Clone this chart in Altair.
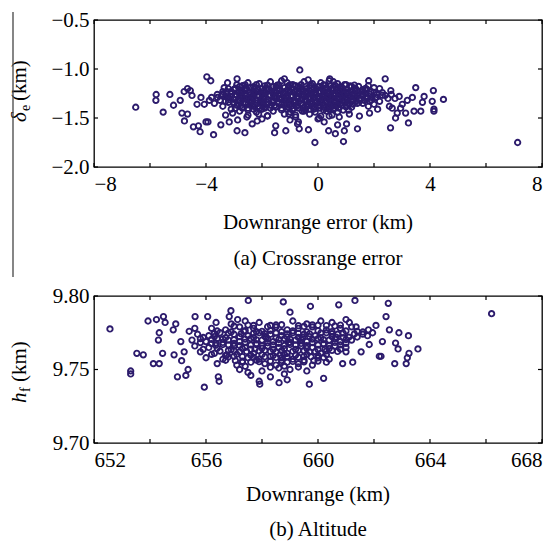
import altair as alt
import pandas as pd

# ---------------- data ----------------
crossrange_points = [
    # outliers / sparse points
    (-6.51, -1.39), (-5.78, -1.26), (-5.79, -1.32), (-5.53, -1.44), (-5.29, -1.26), (-5.16, -1.37),
    (-4.92, -1.32), (-4.86, -1.45), (-4.66, -1.46), (-4.77, -1.53), (-4.78, -1.23), (-4.66, -1.20),
    (-4.56, -1.22), (-4.50, -1.27), (-4.45, -1.59), (-4.27, -1.58), (-4.21, -1.64), (-4.00, -1.54),
    (-3.93, -1.54), (-3.97, -1.08), (-3.83, -1.12), (-3.73, -1.67), (-3.47, -1.57), (-4.18, -1.29),
    (-4.32, -1.36), (-4.06, -1.36), (-3.88, -1.32), (-3.17, -1.54), (-2.89, -1.63), (-2.87, -1.52),
    (-2.89, -1.10), (-3.35, -1.19), (-3.23, -1.14), (-0.65, -1.01), (-2.61, -1.65), (-2.35, -1.56),
    (-2.17, -1.53), (-1.55, -1.65), (-1.51, -1.58), (-1.15, -1.63), (-0.73, -1.56), (-0.67, -1.61),
    (-0.34, -1.62), (-0.11, -1.75), (0.22, -1.54), (0.38, -1.63), (0.62, -1.66), (0.70, -1.57),
    (0.94, -1.63), (1.02, -1.56), (0.91, -1.74), (1.41, -1.61), (0.42, -1.10), (1.81, -1.12),
    (2.40, -1.10), (2.20, -1.20), (2.50, -1.30), (2.55, -1.38), (7.13, -1.75), (3.49, -1.19),
    (4.12, -1.22), (4.48, -1.31), (4.08, -1.33), (4.14, -1.41), (4.14, -1.43), (3.79, -1.28),
    (3.73, -1.34), (3.67, -1.43), (3.43, -1.43), (3.23, -1.55), (3.37, -1.29), (3.19, -1.32),
    (3.01, -1.36), (3.13, -1.45), (2.83, -1.45), (2.77, -1.50), (2.62, -1.26), (2.75, -1.30),
    (2.90, -1.28), (2.95, -1.40), (2.65, -1.40), (2.59, -1.60),
    (-1.81, -1.477), (-1.04, -1.46), (-0.80, -1.49), (-0.56, -1.43), (0.04, -1.50), (0.40, -1.48),
    (0.76, -1.49), (1.12, -1.46), (1.48, -1.48), (1.84, -1.45), (2.13, -1.41), (-2.54, -1.49),
    (-2.12, -1.46), (-3.59, -1.29), (-3.41, -1.255), (-3.30, -1.47), (-3.05, -1.45), (-2.95, -1.40),
    # dense band
    (-2.9, -1.16), (-2.5, -1.14), (-2.1, -1.15), (-1.7, -1.13), (-1.3, -1.12), (-1.1, -1.14),
    (-0.9, -1.16), (-0.5, -1.13), (-0.2, -1.15), (0.1, -1.14), (0.4, -1.12), (0.7, -1.15),
    (1.0, -1.16), (1.8, -1.17), (-1.2, -1.10), (-0.35, -1.11), (0.55, -1.13),
    (-3.2, -1.20), (-2.8, -1.18), (-2.4, -1.19), (-2.0, -1.20), (-1.6, -1.18), (-1.2, -1.19),
    (-0.8, -1.17), (-0.4, -1.20), (0.0, -1.18), (0.3, -1.19), (0.6, -1.17), (0.9, -1.20),
    (1.2, -1.18), (1.6, -1.21), (2.0, -1.19),
    (-3.4, -1.23), (-3.0, -1.21), (-2.6, -1.22), (-2.2, -1.23), (-1.8, -1.21), (-1.4, -1.22),
    (-1.0, -1.23), (-0.6, -1.21), (-0.3, -1.22), (0.2, -1.23), (0.5, -1.21), (0.8, -1.22),
    (1.1, -1.24), (1.4, -1.22), (1.9, -1.23), (2.3, -1.24),
    (-3.6, -1.26), (-3.1, -1.25), (-2.7, -1.24), (-2.3, -1.26), (-1.9, -1.25), (-1.5, -1.24),
    (-1.1, -1.26), (-0.7, -1.25), (-0.35, -1.24), (-0.05, -1.26), (0.35, -1.25), (0.65, -1.26),
    (1.0, -1.25), (1.3, -1.27), (1.7, -1.25), (2.1, -1.26), (2.6, -1.22),
    (-3.8, -1.29), (-3.3, -1.28), (-2.9, -1.27), (-2.5, -1.29), (-2.1, -1.28), (-1.7, -1.27),
    (-1.3, -1.29), (-0.9, -1.28), (-0.5, -1.27), (-0.15, -1.29), (0.15, -1.28), (0.5, -1.29),
    (0.85, -1.28), (1.15, -1.29), (1.5, -1.30), (1.9, -1.29), (2.4, -1.27),
    (-3.5, -1.32), (-3.0, -1.31), (-2.6, -1.30), (-2.2, -1.32), (-1.8, -1.31), (-1.4, -1.30),
    (-1.0, -1.32), (-0.6, -1.31), (-0.25, -1.30), (0.1, -1.32), (0.45, -1.31), (0.75, -1.32),
    (1.05, -1.31), (1.35, -1.33), (1.65, -1.32), (2.2, -1.33),
    (-3.7, -1.35), (-3.2, -1.34), (-2.8, -1.33), (-2.4, -1.35), (-2.0, -1.34), (-1.6, -1.33),
    (-1.2, -1.35), (-0.8, -1.34), (-0.4, -1.33), (-0.1, -1.35), (0.3, -1.34), (0.6, -1.35),
    (0.95, -1.34), (1.25, -1.36), (1.6, -1.35), (2.0, -1.36),
    (-3.4, -1.38), (-2.9, -1.37), (-2.5, -1.36), (-2.1, -1.38), (-1.7, -1.37), (-1.3, -1.36),
    (-0.95, -1.38), (-0.55, -1.37), (-0.2, -1.38), (0.2, -1.37), (0.5, -1.38), (0.85, -1.37),
    (1.2, -1.39), (1.8, -1.38),
    (-3.1, -1.41), (-2.7, -1.40), (-2.3, -1.41), (-1.9, -1.40), (-1.5, -1.39), (-1.1, -1.41),
    (-0.7, -1.40), (-0.3, -1.41), (0.05, -1.40), (0.4, -1.41), (0.75, -1.40), (1.1, -1.42),
    (-2.8, -1.43), (-2.2, -1.44), (-1.6, -1.43), (-1.0, -1.44), (-0.5, -1.43), (-0.1, -1.44),
    (0.3, -1.43), (0.7, -1.44),
    (-2.5, -1.47), (-1.8, -1.48), (-1.2, -1.46), (-0.8, -1.47), (-0.3, -1.46), (0.1, -1.48),
    (0.5, -1.47), (-2.0, -1.51), (-1.0, -1.52), (-0.7, -1.54), (0.0, -1.51),
    (-1.45, -1.165), (-0.65, -1.185), (0.25, -1.165), (-2.35, -1.30), (-1.55, -1.295),
    (-0.75, -1.295), (0.05, -1.245), (0.85, -1.245), (-1.95, -1.355), (-1.15, -1.315),
    (-0.35, -1.355), (0.45, -1.275), (1.25, -1.255), (-2.75, -1.215), (-0.05, -1.205), (0.65, -1.335),
    # dense band, in-between rows
    (-2.7, -1.171), (-2.3, -1.179), (-1.9, -1.172), (-1.5, -1.178), (-1.05, -1.171), (-0.7, -1.179),
    (-0.3, -1.172), (0.05, -1.178), (0.45, -1.171), (0.8, -1.179), (1.15, -1.172), (1.45, -1.178),
    (-3.0, -1.209), (-2.55, -1.201), (-2.15, -1.208), (-1.75, -1.202), (-1.35, -1.209), (-0.95, -1.201),
    (-0.55, -1.208), (-0.15, -1.202), (0.25, -1.209), (0.65, -1.201), (1.0, -1.208), (1.35, -1.202),
    (1.75, -1.209),
    (-3.25, -1.231), (-2.85, -1.239), (-2.45, -1.232), (-2.05, -1.238), (-1.65, -1.231), (-1.25, -1.239),
    (-0.85, -1.232), (-0.45, -1.238), (-0.1, -1.231), (0.3, -1.239), (0.7, -1.232), (1.05, -1.238),
    (1.5, -1.231), (2.0, -1.239),
    (-3.4, -1.269), (-2.95, -1.261), (-2.55, -1.268), (-2.15, -1.262), (-1.75, -1.269), (-1.35, -1.261),
    (-0.95, -1.268), (-0.55, -1.262), (-0.2, -1.269), (0.2, -1.261), (0.55, -1.268), (0.9, -1.262),
    (1.25, -1.269), (1.6, -1.261), (2.3, -1.268),
    (-3.2, -1.291), (-2.75, -1.299), (-2.35, -1.292), (-1.95, -1.298), (-1.5, -1.291), (-1.1, -1.299),
    (-0.7, -1.292), (-0.35, -1.298), (0.0, -1.291), (0.35, -1.299), (0.7, -1.292), (1.0, -1.298),
    (1.35, -1.291), (1.75, -1.299), (2.05, -1.292),
    (-3.3, -1.329), (-2.85, -1.321), (-2.45, -1.328), (-2.05, -1.322), (-1.6, -1.329), (-1.2, -1.321),
    (-0.8, -1.328), (-0.45, -1.322), (-0.05, -1.329), (0.3, -1.321), (0.6, -1.328), (0.9, -1.322),
    (1.2, -1.329), (1.5, -1.321), (1.85, -1.328),
    (-3.0, -1.351), (-2.6, -1.359), (-2.2, -1.352), (-1.8, -1.358), (-1.4, -1.351), (-1.0, -1.359),
    (-0.6, -1.352), (-0.25, -1.358), (0.15, -1.351), (0.45, -1.359), (0.8, -1.352), (1.1, -1.358),
    (1.4, -1.351),
    (-2.7, -1.389), (-2.3, -1.381), (-1.9, -1.388), (-1.5, -1.382), (-1.1, -1.389), (-0.75, -1.381),
    (-0.4, -1.388), (0.0, -1.382), (0.35, -1.389), (0.65, -1.381), (1.0, -1.388),
    (-2.5, -1.419), (-2.0, -1.411), (-1.3, -1.418), (-0.9, -1.412), (-0.45, -1.419), (-0.15, -1.411),
    (0.2, -1.418), (0.55, -1.412), (0.9, -1.419),
    # dense band, third set
    (-2.6, -1.162), (-2.2, -1.160), (-1.8, -1.164), (-1.4, -1.161), (-1.0, -1.163), (-0.6, -1.160),
    (-0.25, -1.164), (0.2, -1.161), (0.6, -1.163), (0.95, -1.160), (1.3, -1.164),
    (-2.95, -1.196), (-2.6, -1.194), (-2.25, -1.198), (-1.85, -1.195), (-1.45, -1.197), (-1.05, -1.194),
    (-0.65, -1.198), (-0.25, -1.195), (0.15, -1.197), (0.5, -1.194), (0.85, -1.198), (1.3, -1.195),
    (1.7, -1.197),
    (-3.1, -1.228), (-2.7, -1.226), (-2.3, -1.230), (-1.95, -1.227), (-1.55, -1.229), (-1.15, -1.226),
    (-0.75, -1.230), (-0.4, -1.227), (0.05, -1.229), (0.4, -1.226), (0.75, -1.230), (1.2, -1.227),
    (1.6, -1.229),
    (-3.25, -1.257), (-2.8, -1.255), (-2.4, -1.259), (-2.0, -1.256), (-1.6, -1.258), (-1.2, -1.255),
    (-0.8, -1.259), (-0.45, -1.256), (-0.1, -1.258), (0.25, -1.255), (0.6, -1.259), (0.95, -1.256),
    (1.4, -1.258), (1.85, -1.255),
    (-3.1, -1.284), (-2.7, -1.282), (-2.3, -1.286), (-1.9, -1.283), (-1.5, -1.285), (-1.1, -1.282),
    (-0.7, -1.286), (-0.3, -1.283), (0.05, -1.285), (0.35, -1.282), (0.7, -1.286), (1.05, -1.283),
    (1.35, -1.285), (1.7, -1.282), (2.1, -1.286),
    (-3.2, -1.313), (-2.8, -1.311), (-2.4, -1.315), (-2.0, -1.312), (-1.6, -1.314), (-1.2, -1.311),
    (-0.85, -1.315), (-0.45, -1.312), (-0.1, -1.314), (0.25, -1.311), (0.6, -1.315), (0.9, -1.312),
    (1.2, -1.314), (1.5, -1.311), (1.9, -1.315),
    (-3.0, -1.343), (-2.6, -1.341), (-2.2, -1.345), (-1.8, -1.342), (-1.4, -1.344), (-1.0, -1.341),
    (-0.6, -1.345), (-0.25, -1.342), (0.1, -1.344), (0.45, -1.341), (0.8, -1.345), (1.1, -1.342),
    (1.45, -1.344),
    (-2.75, -1.372), (-2.35, -1.370), (-1.95, -1.374), (-1.55, -1.371), (-1.15, -1.373), (-0.75, -1.370),
    (-0.35, -1.374), (0.05, -1.371), (0.4, -1.373), (0.7, -1.370), (1.05, -1.374),
    (-2.5, -1.400), (-2.1, -1.402), (-1.7, -1.399), (-1.3, -1.401), (-0.9, -1.403), (-0.5, -1.400),
    (-0.1, -1.402), (0.25, -1.399), (0.6, -1.401),
]

altitude_points = [
    # outliers / sparse points
    (652.57, 9.7776), (653.93, 9.783), (654.23, 9.784), (654.48, 9.786), (654.54, 9.782),
    (654.92, 9.781), (654.33, 9.775), (654.30, 9.770), (654.83, 9.777), (653.53, 9.761),
    (653.76, 9.760), (653.31, 9.749), (653.31, 9.747), (654.12, 9.754), (654.33, 9.754),
    (654.45, 9.761), (654.86, 9.760), (655.10, 9.769), (655.22, 9.762), (655.13, 9.756),
    (654.98, 9.745), (655.28, 9.746), (655.36, 9.750), (655.61, 9.786), (656.06, 9.786),
    (656.36, 9.782), (655.94, 9.738), (655.40, 9.776), (655.60, 9.778), (655.80, 9.771),
    (656.44, 9.745), (656.47, 9.742), (656.89, 9.790), (656.83, 9.786), (657.13, 9.784),
    (657.51, 9.797), (658.76, 9.796), (659.00, 9.789), (659.73, 9.793), (660.74, 9.794),
    (661.32, 9.797), (662.51, 9.795), (662.43, 9.786), (662.55, 9.777), (662.19, 9.759),
    (662.25, 9.759), (659.69, 9.740), (660.20, 9.744), (657.90, 9.742), (657.92, 9.740),
    (658.61, 9.741), (658.90, 9.743), (657.50, 9.748), (661.24, 9.755), (660.88, 9.754),
    (661.54, 9.762), (662.30, 9.769), (662.07, 9.780), (661.95, 9.775), (661.77, 9.773),
    (661.83, 9.767), (661.12, 9.782), (661.36, 9.779), (666.20, 9.788), (662.89, 9.775),
    (663.23, 9.773), (662.77, 9.768), (662.86, 9.764), (663.57, 9.764), (663.25, 9.761),
    (663.19, 9.758), (663.15, 9.754), (662.74, 9.754),
    # dense cluster
    (656.9, 9.781), (657.4, 9.783), (657.9, 9.782), (658.3, 9.780), (659.1, 9.783), (659.6, 9.781),
    (660.1, 9.783), (660.5, 9.782), (661.0, 9.784),
    (656.2, 9.778), (656.7, 9.777), (657.2, 9.779), (657.7, 9.778), (658.0, 9.776), (658.5, 9.779),
    (658.9, 9.777), (659.3, 9.778), (659.8, 9.779), (660.3, 9.777), (660.8, 9.778), (661.4, 9.776),
    (661.8, 9.777),
    (655.7, 9.774), (656.1, 9.773), (656.5, 9.775), (657.0, 9.774), (657.5, 9.773), (657.9, 9.775),
    (658.3, 9.774), (658.7, 9.773), (659.1, 9.775), (659.5, 9.774), (659.9, 9.773), (660.3, 9.775),
    (660.7, 9.774), (661.1, 9.772), (661.6, 9.774),
    (655.5, 9.770), (656.0, 9.769), (656.4, 9.771), (656.8, 9.770), (657.2, 9.769), (657.6, 9.771),
    (658.0, 9.770), (658.4, 9.769), (658.8, 9.771), (659.2, 9.770), (659.6, 9.769), (660.0, 9.771),
    (660.4, 9.770), (660.8, 9.769), (661.2, 9.770),
    (655.6, 9.766), (656.1, 9.765), (656.6, 9.767), (657.0, 9.766), (657.4, 9.765), (657.8, 9.767),
    (658.2, 9.766), (658.6, 9.765), (659.0, 9.767), (659.4, 9.766), (659.8, 9.765), (660.2, 9.767),
    (660.6, 9.766), (661.0, 9.765),
    (655.8, 9.762), (656.3, 9.761), (656.8, 9.763), (657.2, 9.762), (657.7, 9.761), (658.1, 9.763),
    (658.5, 9.762), (658.9, 9.761), (659.3, 9.763), (659.7, 9.762), (660.1, 9.761), (660.5, 9.763),
    (661.0, 9.762),
    (656.0, 9.758), (656.6, 9.757), (657.0, 9.759), (657.5, 9.758), (657.9, 9.757), (658.3, 9.759),
    (658.7, 9.758), (659.1, 9.757), (659.5, 9.759), (660.0, 9.758), (660.4, 9.757),
    (656.4, 9.754), (657.1, 9.753), (657.6, 9.755), (658.1, 9.754), (658.5, 9.753), (658.9, 9.755),
    (659.3, 9.754), (659.8, 9.753), (660.3, 9.755),
    (657.2, 9.750), (658.0, 9.749), (658.6, 9.751), (659.0, 9.750), (659.6, 9.749),
    (657.6, 9.746), (658.3, 9.745), (658.8, 9.747),
    (656.35, 9.768), (657.35, 9.776), (658.15, 9.772), (658.65, 9.760), (659.45, 9.772),
    (660.25, 9.764), (657.05, 9.756), (659.85, 9.756), (657.75, 9.764), (658.95, 9.768),
    (660.65, 9.772), (656.75, 9.760),
    # dense cluster, in-between rows
    (657.0, 9.7795), (657.5, 9.7802), (658.2, 9.7791), (658.7, 9.7805), (659.5, 9.7793),
    (660.0, 9.7801), (660.6, 9.7796), (661.2, 9.7790),
    (656.4, 9.7762), (656.9, 9.7755), (657.4, 9.7764), (657.8, 9.7758), (658.3, 9.7765), (658.7, 9.7757),
    (659.1, 9.7763), (659.6, 9.7756), (660.0, 9.7764), (660.5, 9.7758), (661.0, 9.7762), (661.6, 9.7755),
    (655.9, 9.7718), (656.3, 9.7724), (656.7, 9.7716), (657.2, 9.7723), (657.7, 9.7717), (658.1, 9.7725),
    (658.5, 9.7715), (658.9, 9.7722), (659.3, 9.7718), (659.7, 9.7724), (660.1, 9.7716), (660.5, 9.7723),
    (660.9, 9.7717), (661.4, 9.7721),
    (655.8, 9.7683), (656.2, 9.7676), (656.6, 9.7684), (657.0, 9.7677), (657.4, 9.7685), (657.8, 9.7676),
    (658.2, 9.7682), (658.6, 9.7678), (659.0, 9.7685), (659.4, 9.7677), (659.8, 9.7683), (660.2, 9.7676),
    (660.6, 9.7684), (661.0, 9.7678),
    (655.9, 9.7637), (656.4, 9.7644), (656.9, 9.7636), (657.3, 9.7643), (657.6, 9.7638), (658.0, 9.7645),
    (658.4, 9.7636), (658.8, 9.7642), (659.2, 9.7637), (659.6, 9.7644), (660.0, 9.7636), (660.4, 9.7643),
    (660.8, 9.7638),
    (656.2, 9.7603), (656.7, 9.7596), (657.1, 9.7604), (657.6, 9.7597), (658.0, 9.7602), (658.4, 9.7595),
    (658.8, 9.7604), (659.2, 9.7598), (659.6, 9.7603), (660.0, 9.7596), (660.3, 9.7602),
    (656.7, 9.7563), (657.3, 9.7556), (657.8, 9.7564), (658.3, 9.7557), (658.7, 9.7562), (659.1, 9.7555),
    (659.5, 9.7563), (660.0, 9.7557),
    (657.4, 9.7522), (658.3, 9.7516), (658.8, 9.7523), (659.3, 9.7517),
    # dense cluster, third set
    (657.7, 9.7800), (658.5, 9.7803), (659.3, 9.7798), (659.8, 9.7804), (660.3, 9.7799), (660.8, 9.7802),
    (656.3, 9.7745), (656.8, 9.7748), (657.25, 9.7743), (657.7, 9.7747), (658.1, 9.7744), (658.5, 9.7749),
    (658.9, 9.7742), (659.3, 9.7746), (659.7, 9.7743), (660.1, 9.7748), (660.5, 9.7744), (660.9, 9.7747),
    (661.3, 9.7742),
    (656.2, 9.7705), (656.6, 9.7708), (657.0, 9.7703), (657.4, 9.7707), (657.8, 9.7702), (658.2, 9.7708),
    (658.6, 9.7704), (659.0, 9.7707), (659.4, 9.7702), (659.8, 9.7706), (660.2, 9.7703), (660.6, 9.7708),
    (661.0, 9.7704),
    (656.35, 9.7665), (656.8, 9.7668), (657.2, 9.7663), (657.6, 9.7667), (658.0, 9.7662), (658.4, 9.7668),
    (658.8, 9.7664), (659.2, 9.7667), (659.6, 9.7662), (660.0, 9.7666), (660.4, 9.7663), (660.8, 9.7668),
    (656.5, 9.7625), (657.0, 9.7628), (657.45, 9.7623), (657.9, 9.7627), (658.3, 9.7622), (658.7, 9.7628),
    (659.1, 9.7624), (659.5, 9.7627), (659.9, 9.7622), (660.3, 9.7626), (660.7, 9.7623),
    (656.8, 9.7585), (657.3, 9.7588), (657.7, 9.7583), (658.1, 9.7587), (658.5, 9.7582), (658.9, 9.7588),
    (659.3, 9.7584), (659.75, 9.7587), (660.2, 9.7582),
    (657.3, 9.7550), (657.9, 9.7553), (658.7, 9.7548), (659.5, 9.7552),
]

top_x_ticks = [-8, -6, -4, -2, 0, 2, 4, 6, 8]
top_x_labels = [-8, -4, 0, 4, 8]
top_y_ticks = [-2.0, -1.5, -1.0, -0.5]
bot_x_ticks = [652, 654, 656, 658, 660, 662, 664, 666, 668]
bot_x_labels = [652, 656, 660, 664, 668]
bot_y_ticks = [9.70, 9.75, 9.80]

top_texts = {"xtitle": "Downrange error (km)", "caption": "(a) Crossrange error",
             "ysym": "δ", "ysub": "e", "yunit": "(km)"}
bot_texts = {"xtitle": "Downrange (km)", "caption": "(b) Altitude",
             "ysym": "h", "ysub": "f", "yunit": "(km)"}

# ---------------- styling ----------------
FONT = "Liberation Serif"
COLOR = "#2c1b6c"
W, H = 448, 147
FS = 21
TICK = 4


def one(text):
    return pd.DataFrame({"t": [text]})


def panel(points, xdom, ydom, xticks, xlabels, yticks, yfmt, texts, title_pos, extra=None):
    df = pd.DataFrame(points, columns=["x", "y"])
    xenc = alt.X("x:Q", scale=alt.Scale(domain=xdom, nice=False, zero=False),
                 axis=alt.Axis(values=xlabels, format="d", title=None, labelPadding=6))
    yenc = alt.Y("y:Q", scale=alt.Scale(domain=ydom, nice=False, zero=False),
                 axis=alt.Axis(values=yticks, format=yfmt, title=None, labelPadding=5))

    pts = alt.Chart(df).mark_point(shape="circle", filled=False, size=29, strokeWidth=1.9,
                                   color=COLOR, opacity=1).encode(x=xenc, y=yenc)

    xt = pd.DataFrame({"x": xticks})
    yt = pd.DataFrame({"y": yticks})
    rule = dict(color="black", strokeWidth=1.2)
    xb = alt.Chart(xt).mark_rule(**rule).encode(x=xenc, y=alt.value(H), y2=alt.value(H - TICK))
    xtp = alt.Chart(xt).mark_rule(**rule).encode(x=xenc, y=alt.value(0), y2=alt.value(TICK))
    yl = alt.Chart(yt).mark_rule(**rule).encode(y=yenc, x=alt.value(0), x2=alt.value(TICK))
    yr = alt.Chart(yt).mark_rule(**rule).encode(y=yenc, x=alt.value(W - TICK), x2=alt.value(W))

    xtitle_y, cap_y, ysym_y = title_pos
    txt = dict(font=FONT, fontSize=FS, color="black", baseline="middle")
    xtitle = alt.Chart(one(texts["xtitle"])).mark_text(align="center", **txt).encode(
        x=alt.value(W / 2), y=alt.value(xtitle_y), text="t:N")
    cap = alt.Chart(one(texts["caption"])).mark_text(align="center", **txt).encode(
        x=alt.value(W / 2), y=alt.value(cap_y), text="t:N")
    ysym = alt.Chart(one(texts["ysym"])).mark_text(align="left", angle=270, fontStyle="italic", **txt).encode(
        x=alt.value(-74), y=alt.value(ysym_y), text="t:N")
    ysub = alt.Chart(one(texts["ysub"])).mark_text(align="left", angle=270, font=FONT, fontSize=14,
                                                   color="black", baseline="middle").encode(
        x=alt.value(-68), y=alt.value(ysym_y - 11), text="t:N")
    yunit = alt.Chart(one(texts["yunit"])).mark_text(align="left", angle=270, **txt).encode(
        x=alt.value(-74), y=alt.value(ysym_y - 21), text="t:N")

    layers = [pts, xb, xtp, yl, yr, xtitle, cap, ysym, ysub, yunit]
    if extra is not None:
        layers.append(extra)
    return alt.layer(*layers).properties(width=W, height=H)


side_line = alt.Chart(one("")).mark_rule(color="#444444", strokeWidth=1.3).encode(
    x=alt.value(-81), y=alt.value(-8), y2=alt.value(257))

top = panel(crossrange_points, [-8, 8], [-2.0, -0.5], top_x_ticks, top_x_labels, top_y_ticks, ".1f",
            top_texts, (H + 56, H + 92, 102), extra=side_line)
bottom = panel(altitude_points, [652, 668], [9.70, 9.80], bot_x_ticks, bot_x_labels, bot_y_ticks, ".2f",
               bot_texts, (H + 52, H + 87, 107))

chart = alt.vconcat(top, bottom, spacing=129, bounds="flush").properties(
    padding={"left": 0, "top": 0, "right": 0, "bottom": 0}, background="white"
).configure_view(stroke="black", strokeWidth=1.3).configure_axis(
    labelFont=FONT, labelFontSize=FS, labelColor="black", domain=False, ticks=False, grid=False
)

chart.save("out.html", embed_options={"renderer": "svg", "actions": False})
